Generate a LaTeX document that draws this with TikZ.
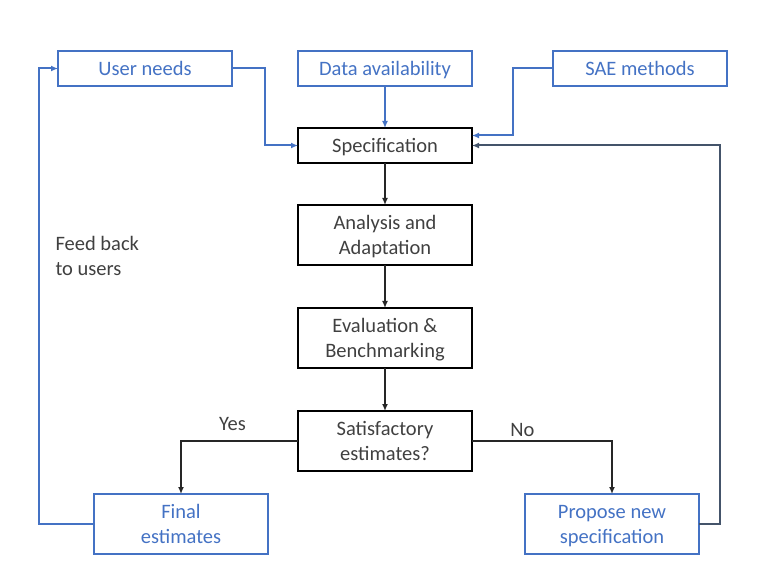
\documentclass[tikz,border=0pt]{standalone}
\usepackage{fontspec}
\setmainfont{Carlito}
\usetikzlibrary{arrows.meta,positioning}
\definecolor{offblue}{HTML}{4472C4}
\definecolor{slate}{HTML}{44546A}
\definecolor{dkgray}{HTML}{404040}
\tikzset{
  blk/.style={rectangle,draw=black,line width=2.4pt,outer sep=0pt,
              minimum width=174pt,minimum height=#1,text depth=0pt,
              font=\fontsize{20.5}{25}\selectfont,align=center,text=dkgray,
              inner sep=2pt},
  bblk/.style={rectangle,draw=offblue,line width=2pt,outer sep=0pt,
               minimum width=174pt,minimum height=#1,text depth=0pt,
               font=\fontsize{20.5}{25}\selectfont,align=center,text=offblue,
               inner sep=2pt},
  arr/.style={-{Latex[length=7pt,width=6pt]},line width=2pt,color=black!85},
  barr/.style={-{Latex[length=7pt,width=6pt]},line width=2pt,color=offblue},
  sarr/.style={-{Latex[length=7pt,width=6pt]},line width=2pt,color=slate},
  lbl/.style={font=\fontsize{20.5}{25}\selectfont,text=dkgray},
}
\begin{document}
\begin{tikzpicture}[node distance=42pt]
  \useasboundingbox (0,0) rectangle (770pt,584pt);

  % main column
  \node[blk=35pt] (spec) at (385pt,438.5pt) {Specification};
  \node[blk=60pt,below=42pt of spec] (ana) {Analysis and\\Adaptation};
  \node[blk=60pt,below=43pt of ana] (eval) {Evaluation \&\\Benchmarking};
  \node[blk=60pt,below=43pt of eval] (sat) {Satisfactory\\estimates?};

  % inputs
  \node[bblk=35pt,above=42pt of spec] (data) {Data availability};
  \node[bblk=35pt,left=66pt of data] (user) {User needs};
  \node[bblk=35pt,right=81pt of data] (sae) {SAE methods};

  % outcomes
  \node[bblk=60pt,below left=23pt and 30pt of sat] (final) {Final\\estimates};
  \node[bblk=60pt,below right=23pt and 53pt of sat] (prop) {Propose new\\specification};

  \draw[barr] (user.east) -- ++(33pt,0) |- (spec.west);
  \draw[barr] (data) -- (spec);
  \draw[barr] (sae.west) -- ++(-40pt,0) |- ([yshift=10pt]spec.east);

  \draw[arr] (spec) -- (ana);
  \draw[arr] (ana) -- (eval);
  \draw[arr] (eval) -- (sat);

  \draw[arr] (sat.west) -| node[lbl,above,pos=0.28,yshift=6pt] {Yes} (final.north);
  \draw[arr] (sat.east) -| node[lbl,above,pos=0.18] {No} (prop.north);

  \draw[sarr] (prop.east) -- ++(21pt,0) |- (spec.east);
  \draw[barr] (final.west) -- ++(-55pt,0) |- (user.west);

  \node[lbl,align=left,anchor=north west] (fb) at (52pt,351pt) {Feed back\\to users};
\end{tikzpicture}
\end{document}
